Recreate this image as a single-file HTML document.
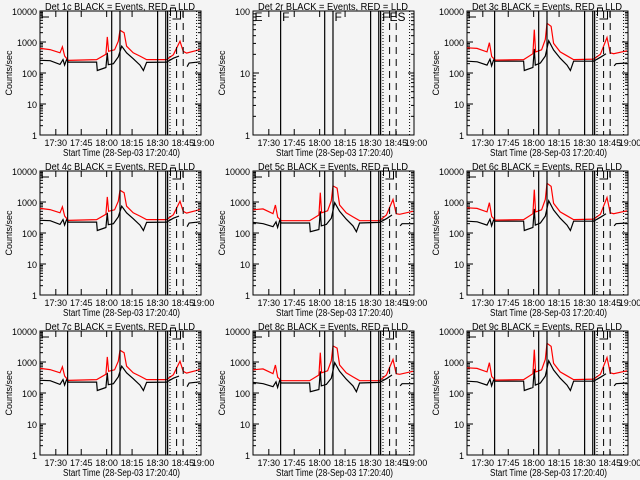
<!DOCTYPE html>
<html><head><meta charset="utf-8"><style>
html,body{margin:0;padding:0;background:#f4f4f4;}
svg{display:block;font-family:"Liberation Sans",sans-serif;}
</style></head><body>
<svg id="c" width="640" height="480" viewBox="0 0 640 480"></svg>
<script>
// ---- data (times in minutes after 17:20:40) ----
const detTitles = ["Det 1c BLACK = Events, RED = LLD","Det 2r BLACK = Events, RED = LLD","Det 3c BLACK = Events, RED = LLD",
 "Det 4c BLACK = Events, RED = LLD","Det 5c BLACK = Events, RED = LLD","Det 6c BLACK = Events, RED = LLD",
 "Det 7c BLACK = Events, RED = LLD","Det 8c BLACK = Events, RED = LLD","Det 9c BLACK = Events, RED = LLD"];
const xTickLabels = ["17:30","17:45","18:00","18:15","18:30","18:45","19:00"];
const xTickTimes = [9.33,24.33,39.33,54.33,69.33,84.33,99.33];
const yTicksLog = ["1","10","100","1000","10000"];
const blackT = [0,6,11.8,13.6,14.5,15.7,16.7,33.4,33.8,38.9,39.7,40.3,43.3,46.2,48.2,51.1,55,59,61,62.9,74.7,78.7,82,null,86.8,88,94.4];
const redT = [0,5.9,11.8,13.2,14.6,16.7,33.4,38.9,39.7,40.5,44,46.2,47.2,49.6,51.1,55,59,62.9,74.7,78.7,82.6,84.5,86.5,94.4];
const blackA = [257,250,190,270,180,270,225,225,120,150,450,185,200,330,730,450,290,180,120,220,225,300,350,null,160,210,230];
const redA = [620,570,450,700,350,255,270,400,1460,500,560,1060,2400,2000,730,450,350,270,270,390,1060,500,440,570];
const blackB = [220,200,160,230,150,250,210,210,110,130,500,170,190,300,950,500,280,170,110,210,220,290,380,null,170,200,200];
const redB = [560,600,420,800,320,250,250,380,2000,450,520,1100,3300,2800,800,450,330,250,250,380,1200,420,400,500];
const blackC = [240,230,180,280,170,260,240,240,120,150,600,180,210,350,1100,550,300,180,120,240,240,320,420,null,170,200,210];
const redC = [650,620,480,950,340,260,270,420,2500,480,560,1200,4000,3200,900,480,360,270,280,400,1400,450,420,520];
const blackSets = [blackA,null,blackC,blackA,blackB,blackC,blackA,blackB,blackC];
const redSets = [redA,null,redC,redA,redB,redC,redA,redB,redC];
const solidLines = [16.3,42.3,47.2,69.4,74.2,75.3];
const dottedLines = [76.7,92.4];
const dashedLines = [80.6,84.5];
const flagLetters = ["E","F","F","FES"];
const flagTimes = [0,16.3,47.2,75.3];

const NS="http://www.w3.org/2000/svg";
const svg=document.getElementById('c');
function el(tag,attrs,parent){const e=document.createElementNS(NS,tag);for(const k in attrs)e.setAttribute(k,attrs[k]);(parent||svg).appendChild(e);return e;}
const colL=[40,253,467], rowT=[11,171,331], W=161, H=124, TMAX=95;

for(let p=0;p<9;p++){
  const L=colL[p%3], T=rowT[Math.floor(p/3)], B=T+H, R=L+W;
  const decades = p===1?2:4;
  const g=el('g',{});
  
  
  const xs=t=>L+t*W/TMAX;
  const ys=v=>B-Math.log10(v)*H/decades;
  const ti=el('text',{x:L+5,y:T-1,'font-size':10,fill:'#000',textLength:150,lengthAdjust:'spacingAndGlyphs'},g);
  ti.textContent=detTitles[p];
  
  
  const box=el('rect',{x:L,y:T,width:W,height:H,fill:'none',stroke:'#000','stroke-width':1},g);
  
  
  for(let d=0;d<=decades;d++){
    const y=B-d*H/decades;
    el('line',{x1:L,x2:L+6,y1:y,y2:y,stroke:'#000'},g);
    el('line',{x1:R-6,x2:R,y1:y,y2:y,stroke:'#000'},g);
    const lb=el('text',{x:L-3,y:y+4,'font-size':9,'text-anchor':'end',fill:'#000'},g);
    lb.textContent=yTicksLog[d];
    
    
    if(d<decades){for(let m=2;m<10;m++){const ym=y-Math.log10(m)*H/decades;
      el('line',{x1:L,x2:L+3,y1:ym,y2:ym,stroke:'#000'},g);el('line',{x1:R-3,x2:R,y1:ym,y2:ym,stroke:'#000'},g);}}
  }
  const yl=el('text',{x:0,y:0,'font-size':9,'text-anchor':'middle',fill:'#000',transform:`translate(${L-28},${T+H/2}) rotate(-90)`},g);
  yl.textContent='Counts/sec';
  
  
  xTickTimes.forEach((t,i)=>{
    const x=Math.min(xs(t),R+2);
    if(xs(t)<=R){el('line',{x1:x,x2:x,y1:B,y2:B-6,stroke:'#000'},g);el('line',{x1:x,x2:x,y1:T,y2:T+6,stroke:'#000'},g);}
    const lb=el('text',{x:x,y:B+11,'font-size':9,'text-anchor':'middle',fill:'#000'},g);
    lb.textContent=xTickLabels[i];
    
    
  });
  const xl=el('text',{x:L+23,y:B+21,'font-size':10,fill:'#000',textLength:117,lengthAdjust:'spacingAndGlyphs'},g);
  xl.textContent='Start Time (28-Sep-03 17:20:40)';
  
  
  function draw(ts,vs,col,name){
    if(!vs)return;let d='',pen=false;
    for(let i=0;i<vs.length;i++){
      if(vs[i]==null||ts[i]==null){pen=false;continue;}
      d+=(pen?'L':'M')+xs(ts[i]).toFixed(1)+','+ys(vs[i]).toFixed(1);pen=true;}
    const pth=el('path',{d:d,fill:'none',stroke:col,'stroke-width':1.2},g);
    
    
  }
  draw(blackT,blackSets[p],'#000','events-series');
  draw(redT,redSets[p],'#ff0000','lld-series');
  solidLines.forEach(t=>{const ln=el('line',{x1:xs(t),x2:xs(t),y1:T,y2:B,stroke:'#000','stroke-width':1.2},g);
    });
  dottedLines.forEach(t=>{const ln=el('line',{x1:xs(t),x2:xs(t),y1:T,y2:B,stroke:'#000','stroke-dasharray':'1,2'},g);
    });
  dashedLines.forEach(t=>{const ln=el('line',{x1:xs(t),x2:xs(t),y1:T,y2:B,stroke:'#000','stroke-dasharray':'7,5'},g);
    });
  if(p===1){
    flagLetters.forEach((s,i)=>{const tx=el('text',{x:xs(flagTimes[i])+1.5,y:T+10,'font-size':12,fill:'#000'},g);
      tx.textContent=s;});
  } else {
    el('path',{d:`M${L+2},${T}v6h7`,fill:'none',stroke:'#000'},g);
    el('path',{d:`M${xs(77)},${T+5}v-8h5v3h5v8h-8`,fill:'none',stroke:'#000'},g);
  }
}
</script>
</body></html>
